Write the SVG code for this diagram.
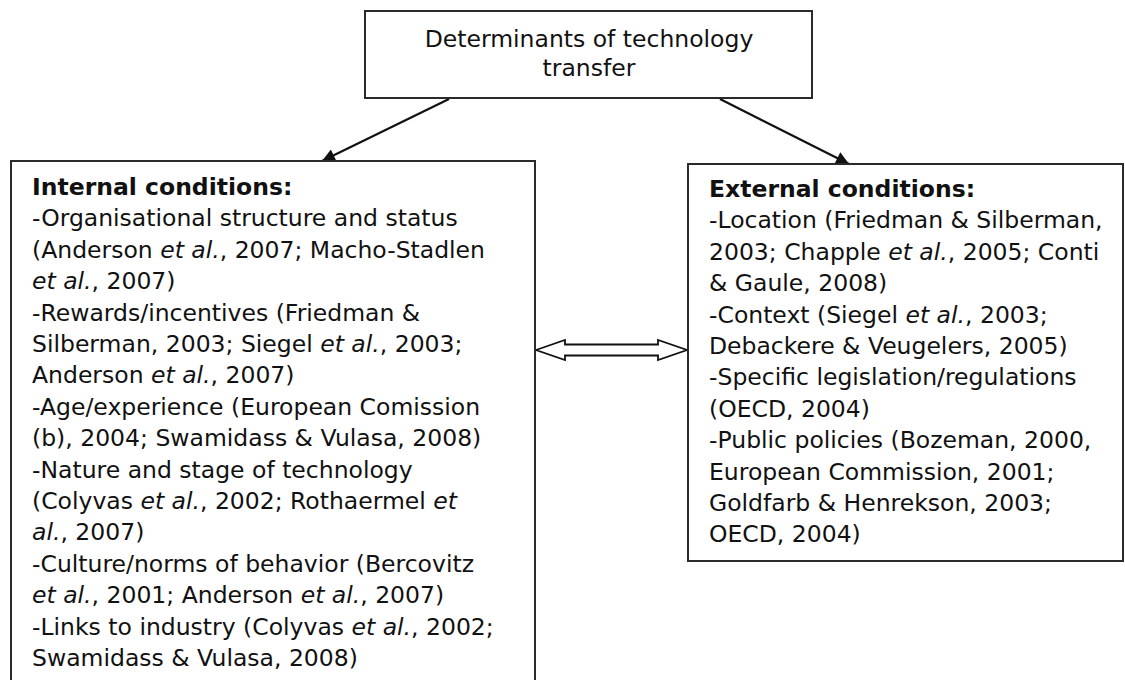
<svg xmlns="http://www.w3.org/2000/svg" width="1125" height="680" viewBox="0 0 1125 680">
<defs>
<style>
.box{fill:#fff;stroke:#2a2a2a;stroke-width:2}
.t{font-family:"DejaVu Sans","Verdana",sans-serif;font-size:23.5px;fill:#111}
.b{font-weight:bold}
.i{font-style:italic}
.c{text-anchor:middle}
.ln{stroke:#111;stroke-width:2.2;fill:none}
</style>
<marker id="ah" viewBox="0 0 10 10" refX="10" refY="5" markerWidth="15" markerHeight="13" markerUnits="userSpaceOnUse" orient="auto">
<path d="M0,0 L10,5 L0,10 z" fill="#111"/>
</marker>
</defs>
<rect width="1125" height="680" fill="#fff"/>
<g id="connectors">
<line class="ln" x1="449" y1="99" x2="322" y2="161" marker-end="url(#ah)"/>
<line class="ln" x1="720" y1="99" x2="849" y2="164" marker-end="url(#ah)"/>
<path d="M536,350 L565,340 L565,344.5 L658,344.5 L658,340 L687,350 L658,360 L658,355.5 L565,355.5 L565,360 Z" fill="#fff" stroke="#111" stroke-width="1.8" stroke-linejoin="miter"/>
</g>
<g id="top">
<rect class="box" x="365" y="11" width="447" height="87"/>
<text class="t c" x="589" y="47">Determinants of technology</text>
<text class="t c" x="589" y="76">transfer</text>
</g>
<g id="internal">
<rect class="box" x="11" y="161" width="524" height="530"/>
<text class="t b" x="32" y="195">Internal conditions:</text>
<text class="t" x="32" y="226.4">-Organisational structure and status</text>
<text class="t" x="32" y="257.8">(Anderson <tspan class="i">et al.</tspan>, 2007; Macho-Stadlen</text>
<text class="t" x="32" y="289.2"><tspan class="i">et al.</tspan>, 2007)</text>
<text class="t" x="32" y="320.6">-Rewards/incentives (Friedman &amp;</text>
<text class="t" x="32" y="352">Silberman, 2003; Siegel <tspan class="i">et al.</tspan>, 2003;</text>
<text class="t" x="32" y="383.4">Anderson <tspan class="i">et al.</tspan>, 2007)</text>
<text class="t" x="32" y="414.8">-Age/experience (European Comission</text>
<text class="t" x="32" y="446.2">(b), 2004; Swamidass &amp; Vulasa, 2008)</text>
<text class="t" x="32" y="477.6">-Nature and stage of technology</text>
<text class="t" x="32" y="509">(Colyvas <tspan class="i">et al.</tspan>, 2002; Rothaermel <tspan class="i">et</tspan></text>
<text class="t" x="32" y="540.4"><tspan class="i">al.</tspan>, 2007)</text>
<text class="t" x="32" y="571.8">-Culture/norms of behavior (Bercovitz</text>
<text class="t" x="32" y="603.2"><tspan class="i">et al.</tspan>, 2001; Anderson <tspan class="i">et al.</tspan>, 2007)</text>
<text class="t" x="32" y="634.6">-Links to industry (Colyvas <tspan class="i">et al.</tspan>, 2002;</text>
<text class="t" x="32" y="666">Swamidass &amp; Vulasa, 2008)</text>
</g>
<g id="external">
<rect class="box" x="688" y="164" width="435" height="397"/>
<text class="t b" x="709" y="197">External conditions:</text>
<text class="t" x="709" y="228.4">-Location (Friedman &amp; Silberman,</text>
<text class="t" x="709" y="259.8">2003; Chapple <tspan class="i">et al.</tspan>, 2005; Conti</text>
<text class="t" x="709" y="291.2">&amp; Gaule, 2008)</text>
<text class="t" x="709" y="322.6">-Context (Siegel <tspan class="i">et al.</tspan>, 2003;</text>
<text class="t" x="709" y="354">Debackere &amp; Veugelers, 2005)</text>
<text class="t" x="709" y="385.4">-Specific legislation/regulations</text>
<text class="t" x="709" y="416.8">(OECD, 2004)</text>
<text class="t" x="709" y="448.2">-Public policies (Bozeman, 2000,</text>
<text class="t" x="709" y="479.6">European Commission, 2001;</text>
<text class="t" x="709" y="511">Goldfarb &amp; Henrekson, 2003;</text>
<text class="t" x="709" y="542.4">OECD, 2004)</text>
</g>
</svg>
